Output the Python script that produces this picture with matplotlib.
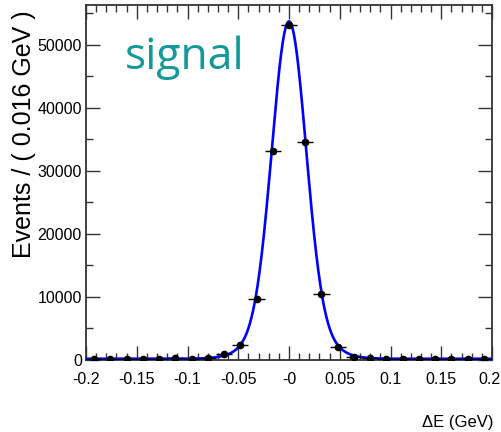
import matplotlib
matplotlib.use("Agg")
import matplotlib.pyplot as plt
import matplotlib.transforms as mtransforms
from matplotlib.ticker import MultipleLocator, FixedLocator
import numpy as np

# data
bin_width = 0.016
bin_centers = [-0.192, -0.176, -0.160, -0.144, -0.128, -0.112, -0.096, -0.080,
               -0.064, -0.048, -0.032, -0.016, 0.0, 0.016, 0.032, 0.048,
               0.064, 0.080, 0.096, 0.112, 0.128, 0.144, 0.160, 0.176, 0.192]
counts = [200, 150, 180, 200, 150, 250, 200, 300,
          900, 2300, 9600, 33200, 53200, 34500, 10400, 2000,
          500, 300, 200, 200, 150, 200, 150, 200, 150]

# fit model parameters (core + wide gaussian + flat background)
core_amp, core_sigma = 47000, 0.0165
wide_amp, wide_sigma = 6500, 0.028
bkg_level = 200

x_ticks = [-0.2, -0.15, -0.1, -0.05, 0.0, 0.05, 0.1, 0.15, 0.2]
x_ticklabels = ["-0.2", "-0.15", "-0.1", "-0.05", "-0", "0.05", "0.1", "0.15", "0.2"]
y_ticks = [0, 10000, 20000, 30000, 40000, 50000]

tick_font = ["Liberation Sans", "DejaVu Sans"]

fig = plt.figure(figsize=(5.01, 4.32), dpi=100)
ax = fig.add_axes([86 / 501, 1 - 360 / 432, 406 / 501, 355 / 432])

x = np.array(bin_centers)
y = np.array(counts, dtype=float)

xs = np.linspace(-0.2, 0.2, 800)
model = (core_amp * np.exp(-xs**2 / (2 * core_sigma**2))
         + wide_amp * np.exp(-xs**2 / (2 * wide_sigma**2)) + bkg_level)
ax.plot(xs, model, color="#0000ff", linewidth=1.9, zorder=3)

ax.errorbar(x, y, xerr=bin_width / 2, yerr=np.sqrt(y), fmt="o",
            color="black", markersize=4.5, elinewidth=1.0, capsize=0, zorder=4)

ax.set_xlim(-0.2, 0.2)
ax.set_ylim(0, 56300)

ax.xaxis.set_major_locator(FixedLocator(x_ticks))
ax.xaxis.set_minor_locator(MultipleLocator(0.01))
ax.set_xticklabels(x_ticklabels)
ax.yaxis.set_major_locator(FixedLocator(y_ticks))
ax.yaxis.set_minor_locator(MultipleLocator(5000))

ax.tick_params(which="both", direction="in", top=True, right=True,
               color="#333333", width=1.0)
ax.tick_params(which="major", length=10)
ax.tick_params(which="minor", length=5)
ax.tick_params(axis="x", which="major", pad=9)
ax.tick_params(axis="y", which="major", pad=3)

for lab in ax.get_xticklabels() + ax.get_yticklabels():
    lab.set_family(tick_font)
    lab.set_fontsize(11.5)

# 最右侧刻度标签稍微左移，避免被裁掉
last = ax.get_xticklabels()[-1]
last.set_transform(last.get_transform()
                   + mtransforms.ScaledTranslation(-3 / 100, 0, fig.dpi_scale_trans))

for spine in ax.spines.values():
    spine.set_color("#333333")
    spine.set_linewidth(1.3)

# 轴标题靠右/靠上对齐
fig.text(24 / 501, 1 - 10 / 432, "Events / ( 0.016 GeV )", rotation=90,
         ha="center", va="top", fontsize=18, family=["Liberation Sans", "DejaVu Sans"])
fig.text(494 / 501, 1 - 422 / 432, "\u0394E (GeV)", ha="right", va="center",
         fontsize=12, family=tick_font)

ax.text(125 / 406 - 86 / 406, 0.82, "signal", transform=ax.transAxes,
        ha="left", va="baseline", fontsize=32, color="#14999a",
        family=["Open Sans", "DejaVu Sans"])

fig.savefig("out.png", dpi=100)
